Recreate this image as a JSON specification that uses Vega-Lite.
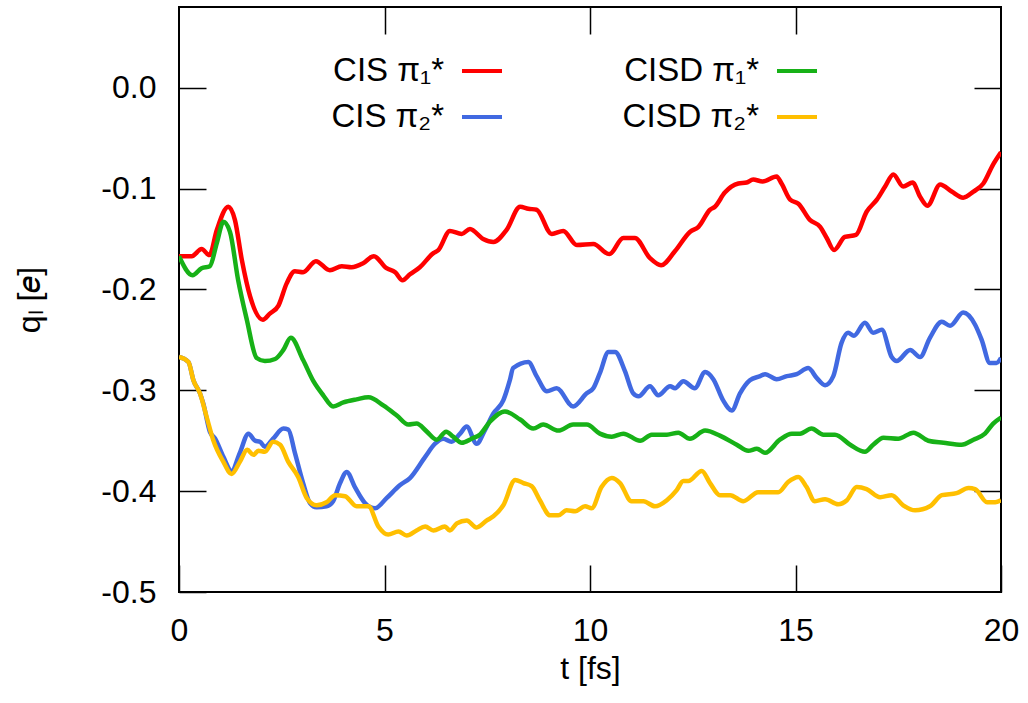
{
  "$schema": "https://vega.github.io/schema/vega-lite/v6.json",
  "width": 822,
  "height": 585,
  "autosize": {"type": "none"},
  "padding": {"left": 179, "top": 7, "right": 27, "bottom": 111},
  "background": "white",
  "config": {
    "view": {"stroke": "black", "strokeWidth": 2},
    "font": "Liberation Sans",
    "axis": {
      "grid": false,
      "domain": false,
      "tickColor": "black",
      "tickWidth": 1.5,
      "tickSize": -27,
      "labelFlush": false,
      "labelFont": "Liberation Sans",
      "labelFontSize": 32,
      "labelColor": "black",
      "titleFont": "Liberation Sans",
      "titleFontSize": 32,
      "titleFontWeight": "normal",
      "titleColor": "black"
    },
    "legend": {
      "orient": "none",
      "legendX": 281,
      "legendY": 42,
      "direction": "horizontal",
      "columns": 2,
      "symbolType": "stroke",
      "symbolStrokeWidth": 4,
      "symbolSize": 1600,
      "labelFont": "Liberation Sans",
      "labelFontSize": 33,
      "labelColor": "black",
      "labelAlign": "right",
      "labelOffset": -60,
      "columnPadding": 112,
      "rowPadding": 7,
      "padding": 0
    }
  },
  "data": {"values": [
    {"s":"CIS π₁*","t":0,"q":-0.167},{"s":"CIS π₁*","t":0.31,"q":-0.167},{"s":"CIS π₁*","t":0.55,"q":-0.160},{"s":"CIS π₁*","t":0.74,"q":-0.166},{"s":"CIS π₁*","t":0.92,"q":-0.141},{"s":"CIS π₁*","t":1.2,"q":-0.118},{"s":"CIS π₁*","t":1.36,"q":-0.131},{"s":"CIS π₁*","t":1.53,"q":-0.171},{"s":"CIS π₁*","t":1.73,"q":-0.207},{"s":"CIS π₁*","t":2.04,"q":-0.230},{"s":"CIS π₁*","t":2.21,"q":-0.224},{"s":"CIS π₁*","t":2.42,"q":-0.216},{"s":"CIS π₁*","t":2.62,"q":-0.194},{"s":"CIS π₁*","t":2.82,"q":-0.182},{"s":"CIS π₁*","t":3.02,"q":-0.183},{"s":"CIS π₁*","t":3.33,"q":-0.172},{"s":"CIS π₁*","t":3.67,"q":-0.181},{"s":"CIS π₁*","t":3.96,"q":-0.177},{"s":"CIS π₁*","t":4.2,"q":-0.178},{"s":"CIS π₁*","t":4.48,"q":-0.174},{"s":"CIS π₁*","t":4.74,"q":-0.167},{"s":"CIS π₁*","t":5.05,"q":-0.179},{"s":"CIS π₁*","t":5.26,"q":-0.183},{"s":"CIS π₁*","t":5.44,"q":-0.191},{"s":"CIS π₁*","t":5.62,"q":-0.185},{"s":"CIS π₁*","t":5.86,"q":-0.178},{"s":"CIS π₁*","t":6.19,"q":-0.164},{"s":"CIS π₁*","t":6.31,"q":-0.161},{"s":"CIS π₁*","t":6.59,"q":-0.142},{"s":"CIS π₁*","t":6.88,"q":-0.145},{"s":"CIS π₁*","t":7.08,"q":-0.140},{"s":"CIS π₁*","t":7.4,"q":-0.150},{"s":"CIS π₁*","t":7.65,"q":-0.153},{"s":"CIS π₁*","t":7.97,"q":-0.141},{"s":"CIS π₁*","t":8.3,"q":-0.118},{"s":"CIS π₁*","t":8.5,"q":-0.120},{"s":"CIS π₁*","t":8.7,"q":-0.121},{"s":"CIS π₁*","t":9.07,"q":-0.145},{"s":"CIS π₁*","t":9.35,"q":-0.142},{"s":"CIS π₁*","t":9.68,"q":-0.156},{"s":"CIS π₁*","t":10.08,"q":-0.155},{"s":"CIS π₁*","t":10.47,"q":-0.165},{"s":"CIS π₁*","t":10.81,"q":-0.149},{"s":"CIS π₁*","t":11.09,"q":-0.149},{"s":"CIS π₁*","t":11.46,"q":-0.169},{"s":"CIS π₁*","t":11.73,"q":-0.176},{"s":"CIS π₁*","t":12.07,"q":-0.162},{"s":"CIS π₁*","t":12.43,"q":-0.143},{"s":"CIS π₁*","t":12.64,"q":-0.138},{"s":"CIS π₁*","t":12.92,"q":-0.121},{"s":"CIS π₁*","t":13.04,"q":-0.118},{"s":"CIS π₁*","t":13.28,"q":-0.104},{"s":"CIS π₁*","t":13.61,"q":-0.095},{"s":"CIS π₁*","t":13.81,"q":-0.094},{"s":"CIS π₁*","t":13.97,"q":-0.091},{"s":"CIS π₁*","t":14.2,"q":-0.093},{"s":"CIS π₁*","t":14.54,"q":-0.088},{"s":"CIS π₁*","t":14.66,"q":-0.095},{"s":"CIS π₁*","t":14.87,"q":-0.111},{"s":"CIS π₁*","t":15.07,"q":-0.115},{"s":"CIS π₁*","t":15.35,"q":-0.131},{"s":"CIS π₁*","t":15.6,"q":-0.138},{"s":"CIS π₁*","t":15.76,"q":-0.149},{"s":"CIS π₁*","t":15.94,"q":-0.161},{"s":"CIS π₁*","t":16.2,"q":-0.148},{"s":"CIS π₁*","t":16.47,"q":-0.146},{"s":"CIS π₁*","t":16.73,"q":-0.123},{"s":"CIS π₁*","t":16.98,"q":-0.111},{"s":"CIS π₁*","t":17.18,"q":-0.098},{"s":"CIS π₁*","t":17.38,"q":-0.086},{"s":"CIS π₁*","t":17.62,"q":-0.098},{"s":"CIS π₁*","t":17.85,"q":-0.094},{"s":"CIS π₁*","t":18.03,"q":-0.108},{"s":"CIS π₁*","t":18.21,"q":-0.117},{"s":"CIS π₁*","t":18.52,"q":-0.096},{"s":"CIS π₁*","t":18.8,"q":-0.103},{"s":"CIS π₁*","t":19.08,"q":-0.109},{"s":"CIS π₁*","t":19.33,"q":-0.103},{"s":"CIS π₁*","t":19.57,"q":-0.095},{"s":"CIS π₁*","t":19.81,"q":-0.076},{"s":"CIS π₁*","t":20,"q":-0.064},
    {"s":"CIS π₂*","t":0,"q":-0.267},{"s":"CIS π₂*","t":0.23,"q":-0.272},{"s":"CIS π₂*","t":0.35,"q":-0.290},{"s":"CIS π₂*","t":0.51,"q":-0.303},{"s":"CIS π₂*","t":0.59,"q":-0.313},{"s":"CIS π₂*","t":0.75,"q":-0.341},{"s":"CIS π₂*","t":0.88,"q":-0.348},{"s":"CIS π₂*","t":1.08,"q":-0.366},{"s":"CIS π₂*","t":1.28,"q":-0.380},{"s":"CIS π₂*","t":1.48,"q":-0.362},{"s":"CIS π₂*","t":1.69,"q":-0.343},{"s":"CIS π₂*","t":1.85,"q":-0.350},{"s":"CIS π₂*","t":1.97,"q":-0.351},{"s":"CIS π₂*","t":2.09,"q":-0.356},{"s":"CIS π₂*","t":2.29,"q":-0.348},{"s":"CIS π₂*","t":2.54,"q":-0.338},{"s":"CIS π₂*","t":2.66,"q":-0.339},{"s":"CIS π₂*","t":2.82,"q":-0.362},{"s":"CIS π₂*","t":3.02,"q":-0.392},{"s":"CIS π₂*","t":3.19,"q":-0.412},{"s":"CIS π₂*","t":3.35,"q":-0.416},{"s":"CIS π₂*","t":3.59,"q":-0.415},{"s":"CIS π₂*","t":3.75,"q":-0.410},{"s":"CIS π₂*","t":3.92,"q":-0.392},{"s":"CIS π₂*","t":4.08,"q":-0.381},{"s":"CIS π₂*","t":4.28,"q":-0.396},{"s":"CIS π₂*","t":4.53,"q":-0.412},{"s":"CIS π₂*","t":4.77,"q":-0.417},{"s":"CIS π₂*","t":5.05,"q":-0.407},{"s":"CIS π₂*","t":5.38,"q":-0.394},{"s":"CIS π₂*","t":5.62,"q":-0.387},{"s":"CIS π₂*","t":5.99,"q":-0.366},{"s":"CIS π₂*","t":6.23,"q":-0.353},{"s":"CIS π₂*","t":6.43,"q":-0.348},{"s":"CIS π₂*","t":6.63,"q":-0.351},{"s":"CIS π₂*","t":6.84,"q":-0.343},{"s":"CIS π₂*","t":7.0,"q":-0.336},{"s":"CIS π₂*","t":7.24,"q":-0.353},{"s":"CIS π₂*","t":7.45,"q":-0.339},{"s":"CIS π₂*","t":7.65,"q":-0.323},{"s":"CIS π₂*","t":7.89,"q":-0.310},{"s":"CIS π₂*","t":8.05,"q":-0.290},{"s":"CIS π₂*","t":8.13,"q":-0.278},{"s":"CIS π₂*","t":8.5,"q":-0.272},{"s":"CIS π₂*","t":8.7,"q":-0.286},{"s":"CIS π₂*","t":8.95,"q":-0.301},{"s":"CIS π₂*","t":9.19,"q":-0.298},{"s":"CIS π₂*","t":9.59,"q":-0.316},{"s":"CIS π₂*","t":9.92,"q":-0.303},{"s":"CIS π₂*","t":10.08,"q":-0.298},{"s":"CIS π₂*","t":10.24,"q":-0.283},{"s":"CIS π₂*","t":10.45,"q":-0.262},{"s":"CIS π₂*","t":10.61,"q":-0.262},{"s":"CIS π₂*","t":10.85,"q":-0.281},{"s":"CIS π₂*","t":11.05,"q":-0.303},{"s":"CIS π₂*","t":11.18,"q":-0.306},{"s":"CIS π₂*","t":11.46,"q":-0.296},{"s":"CIS π₂*","t":11.66,"q":-0.305},{"s":"CIS π₂*","t":11.95,"q":-0.296},{"s":"CIS π₂*","t":12.07,"q":-0.298},{"s":"CIS π₂*","t":12.27,"q":-0.291},{"s":"CIS π₂*","t":12.55,"q":-0.298},{"s":"CIS π₂*","t":12.8,"q":-0.282},{"s":"CIS π₂*","t":13.0,"q":-0.289},{"s":"CIS π₂*","t":13.24,"q":-0.310},{"s":"CIS π₂*","t":13.45,"q":-0.320},{"s":"CIS π₂*","t":13.65,"q":-0.303},{"s":"CIS π₂*","t":13.89,"q":-0.290},{"s":"CIS π₂*","t":14.14,"q":-0.286},{"s":"CIS π₂*","t":14.26,"q":-0.284},{"s":"CIS π₂*","t":14.54,"q":-0.289},{"s":"CIS π₂*","t":14.79,"q":-0.286},{"s":"CIS π₂*","t":15.03,"q":-0.284},{"s":"CIS π₂*","t":15.31,"q":-0.278},{"s":"CIS π₂*","t":15.52,"q":-0.288},{"s":"CIS π₂*","t":15.72,"q":-0.295},{"s":"CIS π₂*","t":15.92,"q":-0.286},{"s":"CIS π₂*","t":16.12,"q":-0.253},{"s":"CIS π₂*","t":16.28,"q":-0.243},{"s":"CIS π₂*","t":16.42,"q":-0.246},{"s":"CIS π₂*","t":16.69,"q":-0.233},{"s":"CIS π₂*","t":16.89,"q":-0.243},{"s":"CIS π₂*","t":17.1,"q":-0.240},{"s":"CIS π₂*","t":17.34,"q":-0.267},{"s":"CIS π₂*","t":17.46,"q":-0.271},{"s":"CIS π₂*","t":17.79,"q":-0.260},{"s":"CIS π₂*","t":18.03,"q":-0.267},{"s":"CIS π₂*","t":18.27,"q":-0.248},{"s":"CIS π₂*","t":18.56,"q":-0.232},{"s":"CIS π₂*","t":18.76,"q":-0.236},{"s":"CIS π₂*","t":19.08,"q":-0.223},{"s":"CIS π₂*","t":19.37,"q":-0.235},{"s":"CIS π₂*","t":19.53,"q":-0.250},{"s":"CIS π₂*","t":19.73,"q":-0.273},{"s":"CIS π₂*","t":19.89,"q":-0.273},{"s":"CIS π₂*","t":20,"q":-0.268},
    {"s":"CISD π₁*","t":0,"q":-0.167},{"s":"CISD π₁*","t":0.33,"q":-0.186},{"s":"CISD π₁*","t":0.55,"q":-0.179},{"s":"CISD π₁*","t":0.75,"q":-0.177},{"s":"CISD π₁*","t":0.92,"q":-0.154},{"s":"CISD π₁*","t":1.08,"q":-0.133},{"s":"CISD π₁*","t":1.24,"q":-0.143},{"s":"CISD π₁*","t":1.44,"q":-0.191},{"s":"CISD π₁*","t":1.65,"q":-0.230},{"s":"CISD π₁*","t":1.89,"q":-0.268},{"s":"CISD π₁*","t":2.09,"q":-0.271},{"s":"CISD π₁*","t":2.34,"q":-0.269},{"s":"CISD π₁*","t":2.54,"q":-0.260},{"s":"CISD π₁*","t":2.72,"q":-0.248},{"s":"CISD π₁*","t":3.02,"q":-0.270},{"s":"CISD π₁*","t":3.27,"q":-0.291},{"s":"CISD π₁*","t":3.51,"q":-0.305},{"s":"CISD π₁*","t":3.75,"q":-0.316},{"s":"CISD π₁*","t":4.0,"q":-0.312},{"s":"CISD π₁*","t":4.32,"q":-0.309},{"s":"CISD π₁*","t":4.61,"q":-0.307},{"s":"CISD π₁*","t":4.97,"q":-0.315},{"s":"CISD π₁*","t":5.3,"q":-0.325},{"s":"CISD π₁*","t":5.58,"q":-0.334},{"s":"CISD π₁*","t":5.78,"q":-0.333},{"s":"CISD π₁*","t":6.03,"q":-0.341},{"s":"CISD π₁*","t":6.27,"q":-0.349},{"s":"CISD π₁*","t":6.5,"q":-0.341},{"s":"CISD π₁*","t":6.67,"q":-0.346},{"s":"CISD π₁*","t":6.88,"q":-0.352},{"s":"CISD π₁*","t":7.12,"q":-0.348},{"s":"CISD π₁*","t":7.32,"q":-0.344},{"s":"CISD π₁*","t":7.57,"q":-0.331},{"s":"CISD π₁*","t":7.93,"q":-0.321},{"s":"CISD π₁*","t":8.3,"q":-0.329},{"s":"CISD π₁*","t":8.62,"q":-0.338},{"s":"CISD π₁*","t":8.86,"q":-0.334},{"s":"CISD π₁*","t":9.23,"q":-0.340},{"s":"CISD π₁*","t":9.59,"q":-0.334},{"s":"CISD π₁*","t":9.92,"q":-0.334},{"s":"CISD π₁*","t":10.24,"q":-0.343},{"s":"CISD π₁*","t":10.53,"q":-0.346},{"s":"CISD π₁*","t":10.81,"q":-0.343},{"s":"CISD π₁*","t":11.22,"q":-0.350},{"s":"CISD π₁*","t":11.5,"q":-0.344},{"s":"CISD π₁*","t":11.87,"q":-0.344},{"s":"CISD π₁*","t":12.15,"q":-0.342},{"s":"CISD π₁*","t":12.43,"q":-0.348},{"s":"CISD π₁*","t":12.8,"q":-0.340},{"s":"CISD π₁*","t":13.16,"q":-0.345},{"s":"CISD π₁*","t":13.57,"q":-0.354},{"s":"CISD π₁*","t":13.85,"q":-0.360},{"s":"CISD π₁*","t":14.06,"q":-0.358},{"s":"CISD π₁*","t":14.26,"q":-0.362},{"s":"CISD π₁*","t":14.62,"q":-0.349},{"s":"CISD π₁*","t":14.91,"q":-0.343},{"s":"CISD π₁*","t":15.11,"q":-0.343},{"s":"CISD π₁*","t":15.39,"q":-0.338},{"s":"CISD π₁*","t":15.68,"q":-0.344},{"s":"CISD π₁*","t":15.96,"q":-0.344},{"s":"CISD π₁*","t":16.33,"q":-0.354},{"s":"CISD π₁*","t":16.69,"q":-0.361},{"s":"CISD π₁*","t":16.89,"q":-0.354},{"s":"CISD π₁*","t":17.14,"q":-0.347},{"s":"CISD π₁*","t":17.5,"q":-0.348},{"s":"CISD π₁*","t":17.87,"q":-0.342},{"s":"CISD π₁*","t":18.23,"q":-0.350},{"s":"CISD π₁*","t":18.6,"q":-0.352},{"s":"CISD π₁*","t":19.04,"q":-0.354},{"s":"CISD π₁*","t":19.33,"q":-0.349},{"s":"CISD π₁*","t":19.61,"q":-0.343},{"s":"CISD π₁*","t":19.81,"q":-0.333},{"s":"CISD π₁*","t":20,"q":-0.327},
    {"s":"CISD π₂*","t":0,"q":-0.267},{"s":"CISD π₂*","t":0.23,"q":-0.272},{"s":"CISD π₂*","t":0.35,"q":-0.290},{"s":"CISD π₂*","t":0.51,"q":-0.303},{"s":"CISD π₂*","t":0.67,"q":-0.326},{"s":"CISD π₂*","t":0.83,"q":-0.349},{"s":"CISD π₂*","t":1.08,"q":-0.371},{"s":"CISD π₂*","t":1.28,"q":-0.383},{"s":"CISD π₂*","t":1.48,"q":-0.371},{"s":"CISD π₂*","t":1.66,"q":-0.359},{"s":"CISD π₂*","t":1.81,"q":-0.364},{"s":"CISD π₂*","t":1.93,"q":-0.360},{"s":"CISD π₂*","t":2.09,"q":-0.361},{"s":"CISD π₂*","t":2.29,"q":-0.351},{"s":"CISD π₂*","t":2.46,"q":-0.354},{"s":"CISD π₂*","t":2.66,"q":-0.371},{"s":"CISD π₂*","t":2.9,"q":-0.386},{"s":"CISD π₂*","t":3.11,"q":-0.407},{"s":"CISD π₂*","t":3.35,"q":-0.414},{"s":"CISD π₂*","t":3.59,"q":-0.411},{"s":"CISD π₂*","t":3.8,"q":-0.404},{"s":"CISD π₂*","t":4.04,"q":-0.405},{"s":"CISD π₂*","t":4.32,"q":-0.415},{"s":"CISD π₂*","t":4.61,"q":-0.415},{"s":"CISD π₂*","t":4.85,"q":-0.435},{"s":"CISD π₂*","t":5.09,"q":-0.443},{"s":"CISD π₂*","t":5.34,"q":-0.440},{"s":"CISD π₂*","t":5.54,"q":-0.444},{"s":"CISD π₂*","t":5.78,"q":-0.439},{"s":"CISD π₂*","t":5.99,"q":-0.435},{"s":"CISD π₂*","t":6.19,"q":-0.439},{"s":"CISD π₂*","t":6.47,"q":-0.435},{"s":"CISD π₂*","t":6.59,"q":-0.439},{"s":"CISD π₂*","t":6.76,"q":-0.432},{"s":"CISD π₂*","t":7.0,"q":-0.429},{"s":"CISD π₂*","t":7.24,"q":-0.436},{"s":"CISD π₂*","t":7.49,"q":-0.429},{"s":"CISD π₂*","t":7.65,"q":-0.425},{"s":"CISD π₂*","t":7.89,"q":-0.414},{"s":"CISD π₂*","t":8.18,"q":-0.389},{"s":"CISD π₂*","t":8.38,"q":-0.392},{"s":"CISD π₂*","t":8.58,"q":-0.395},{"s":"CISD π₂*","t":8.78,"q":-0.409},{"s":"CISD π₂*","t":9.03,"q":-0.424},{"s":"CISD π₂*","t":9.23,"q":-0.424},{"s":"CISD π₂*","t":9.43,"q":-0.419},{"s":"CISD π₂*","t":9.64,"q":-0.420},{"s":"CISD π₂*","t":9.88,"q":-0.415},{"s":"CISD π₂*","t":10.04,"q":-0.417},{"s":"CISD π₂*","t":10.28,"q":-0.396},{"s":"CISD π₂*","t":10.53,"q":-0.387},{"s":"CISD π₂*","t":10.73,"q":-0.392},{"s":"CISD π₂*","t":11.01,"q":-0.410},{"s":"CISD π₂*","t":11.3,"q":-0.410},{"s":"CISD π₂*","t":11.58,"q":-0.415},{"s":"CISD π₂*","t":11.87,"q":-0.409},{"s":"CISD π₂*","t":12.11,"q":-0.399},{"s":"CISD π₂*","t":12.27,"q":-0.390},{"s":"CISD π₂*","t":12.39,"q":-0.390},{"s":"CISD π₂*","t":12.72,"q":-0.380},{"s":"CISD π₂*","t":12.92,"q":-0.392},{"s":"CISD π₂*","t":13.16,"q":-0.404},{"s":"CISD π₂*","t":13.41,"q":-0.404},{"s":"CISD π₂*","t":13.73,"q":-0.410},{"s":"CISD π₂*","t":14.09,"q":-0.401},{"s":"CISD π₂*","t":14.34,"q":-0.401},{"s":"CISD π₂*","t":14.58,"q":-0.401},{"s":"CISD π₂*","t":14.82,"q":-0.391},{"s":"CISD π₂*","t":15.07,"q":-0.386},{"s":"CISD π₂*","t":15.27,"q":-0.396},{"s":"CISD π₂*","t":15.47,"q":-0.410},{"s":"CISD π₂*","t":15.72,"q":-0.408},{"s":"CISD π₂*","t":16.04,"q":-0.413},{"s":"CISD π₂*","t":16.25,"q":-0.409},{"s":"CISD π₂*","t":16.49,"q":-0.396},{"s":"CISD π₂*","t":16.73,"q":-0.398},{"s":"CISD π₂*","t":17.06,"q":-0.406},{"s":"CISD π₂*","t":17.34,"q":-0.404},{"s":"CISD π₂*","t":17.62,"q":-0.414},{"s":"CISD π₂*","t":17.91,"q":-0.419},{"s":"CISD π₂*","t":18.27,"q":-0.415},{"s":"CISD π₂*","t":18.56,"q":-0.404},{"s":"CISD π₂*","t":18.92,"q":-0.402},{"s":"CISD π₂*","t":19.21,"q":-0.397},{"s":"CISD π₂*","t":19.37,"q":-0.398},{"s":"CISD π₂*","t":19.66,"q":-0.411},{"s":"CISD π₂*","t":19.86,"q":-0.411},{"s":"CISD π₂*","t":20,"q":-0.409}
  ]},
  "layer": [
    {
      "mark": {"type": "line", "strokeWidth": 4.5, "interpolate": "monotone", "clip": true},
      "encoding": {
        "x": {"field": "t", "type": "quantitative", "scale": {"domain": [0, 20], "nice": false, "zero": false},
              "axis": {"orient": "bottom", "values": [0, 5, 10, 15, 20], "labelPadding": 50, "title": "t [fs]", "titlePadding": 7}},
        "y": {"field": "q", "type": "quantitative", "scale": {"domain": [-0.5, 0.08], "nice": false, "zero": false},
              "axis": {"orient": "left", "values": [-0.5, -0.4, -0.3, -0.2, -0.1, 0.0], "labelPadding": 50,
                       "labelExpr": "replace(format(datum.value, '.1f'), '−', '-')", "title": "qₗ [𝑒]", "titlePadding": 54}},
        "color": {"field": "s", "type": "nominal",
                  "scale": {"domain": ["CIS π₁*", "CISD π₁*", "CIS π₂*", "CISD π₂*"], "range": ["#ff0000", "#17b117", "#4169e1", "#ffbf00"]},
                  "legend": {"title": null}}
      }
    },
    {
      "mark": {"type": "point", "opacity": 0},
      "encoding": {
        "x": {"field": "t", "type": "quantitative", "axis": {"orient": "top", "values": [5, 10, 15], "labels": false, "title": null}},
        "y": {"field": "q", "type": "quantitative", "axis": {"orient": "right", "values": [-0.4, -0.3, -0.2, -0.1, 0.0], "labels": false, "title": null}}
      }
    }
  ],
  "resolve": {"axis": {"x": "independent", "y": "independent"}}
}
